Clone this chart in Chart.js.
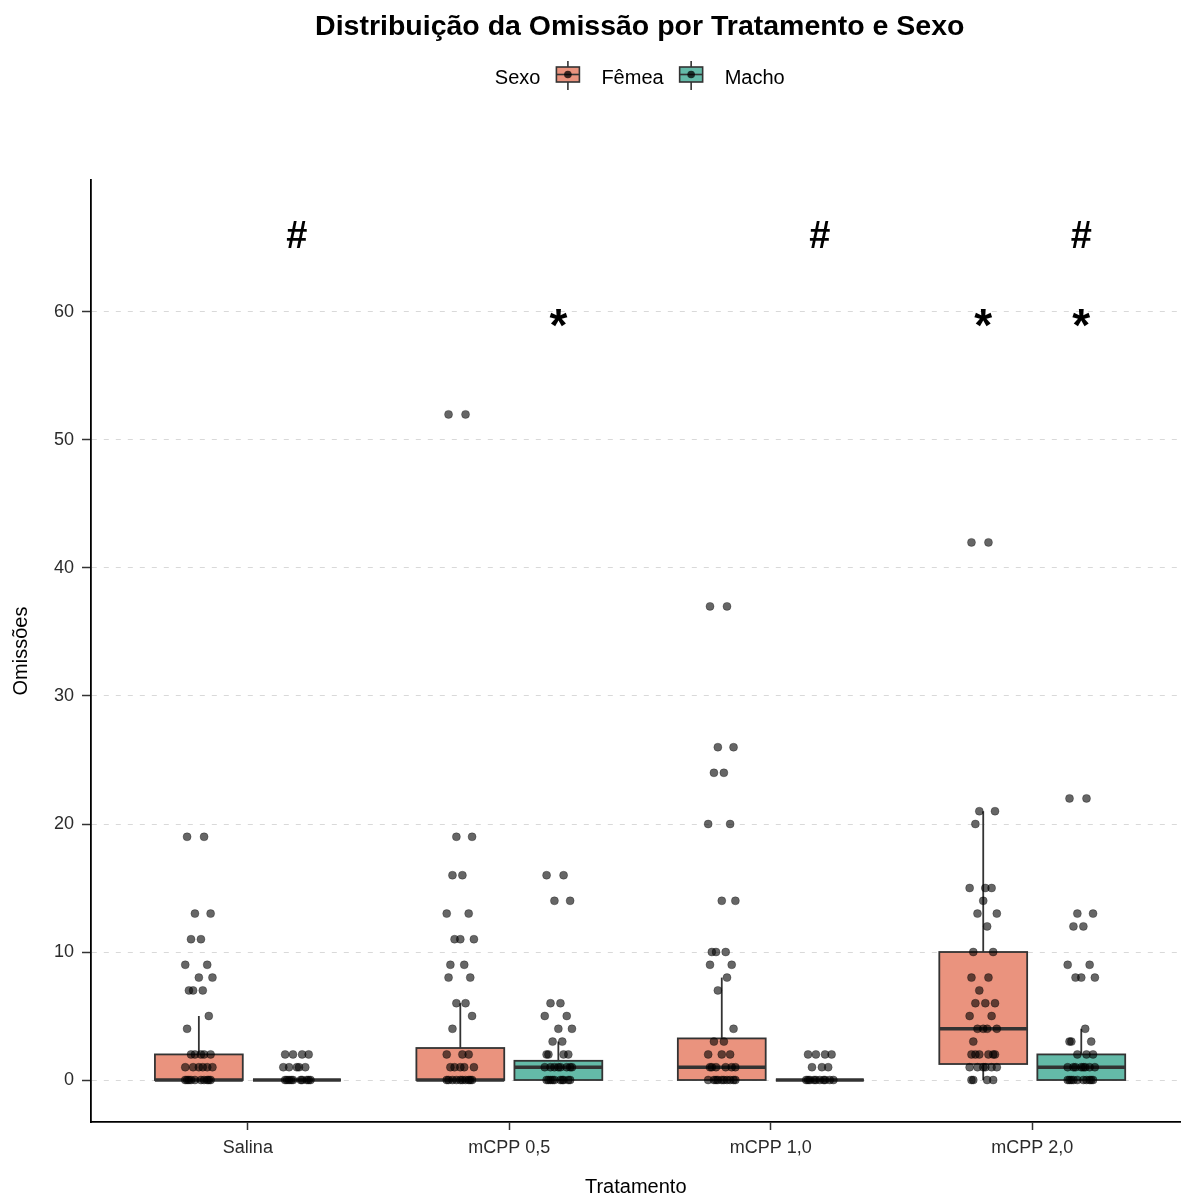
<!DOCTYPE html>
<html>
<head>
<meta charset="utf-8">
<script src="https://cdn.jsdelivr.net/npm/chart.js@4.4.1/dist/chart.umd.min.js"></script>
<style>
  html, body { margin: 0; padding: 0; background: #fff; }
  #wrap { position: relative; width: 1185px; height: 1198px; }
</style>
</head>
<body>
<div id="wrap"><canvas id="omissaoChart"></canvas></div>
<script>
/* ===========================
   Omissões por Tratamento e Sexo
   box plot + jittered points
=========================== */

const TREATMENTS = ['Salina', 'mCPP 0,5', 'mCPP 1,0', 'mCPP 2,0'];
const SEXES      = ['Fêmea', 'Macho'];
const Y_TICKS    = [0, 10, 20, 30, 40, 50, 60];

// box stats: [lower whisker, Q1, median, Q3, upper whisker]
const FEMALE_BOX = [
  [0, 0, 0, 2, 5],
  [0, 0, 0, 2.5, 6],
  [0, 0, 1, 3.25, 8],
  [0, 1.25, 4, 10, 21]
];
const MALE_BOX = [
  [0, 0, 0, 0, 0],
  [0, 0, 1, 1.5, 3],
  [0, 0, 0, 0, 0],
  [0, 0, 1, 2, 4]
];

// individual observations (overlapping dots repeated)
const FEMALE_SALINA = [19, 19, 13, 13, 11, 11, 9, 9, 8, 8, 7, 7, 7, 5, 4, 2, 2, 2, 2, 2, 1, 1, 1, 1, 1, 1, 0, 0, 0, 0, 0, 0, 0, 0, 0, 0];
const FEMALE_05     = [52, 52, 19, 19, 16, 16, 13, 13, 11, 11, 11, 9, 9, 8, 8, 6, 6, 5, 4, 2, 2, 2, 1, 1, 1, 1, 1, 0, 0, 0, 0, 0, 0, 0, 0, 0, 0];
const FEMALE_10     = [37, 37, 26, 26, 24, 24, 20, 20, 14, 14, 10, 10, 10, 9, 9, 8, 7, 4, 3, 3, 2, 2, 2, 1, 1, 1, 1, 1, 1, 0, 0, 0, 0, 0, 0, 0, 0, 0, 0];
const FEMALE_20     = [42, 42, 21, 21, 20, 15, 15, 15, 14, 13, 13, 12, 10, 10, 8, 8, 7, 6, 6, 6, 5, 5, 4, 4, 4, 4, 3, 2, 2, 2, 2, 2, 2, 1, 1, 1, 1, 1, 1, 0, 0, 0, 0];
const MALE_SALINA   = [2, 2, 2, 2, 1, 1, 1, 1, 1, 0, 0, 0, 0, 0, 0, 0, 0, 0, 0];
const MALE_05       = [16, 16, 14, 14, 6, 6, 5, 5, 4, 4, 3, 3, 2, 2, 2, 2, 1, 1, 1, 1, 1, 1, 1, 1, 0, 0, 0, 0, 0, 0, 0, 0, 0, 0];
const MALE_10       = [2, 2, 2, 2, 1, 1, 1, 0, 0, 0, 0, 0, 0, 0, 0, 0, 0];
const MALE_20       = [22, 22, 13, 13, 12, 12, 9, 9, 8, 8, 8, 4, 3, 3, 3, 2, 2, 2, 1, 1, 1, 1, 1, 1, 1, 1, 0, 0, 0, 0, 0, 0, 0, 0, 0, 0];

// significance marks
const MARK_TREAT  = [0, 1, 2, 3, 3, 3];
const MARK_SEX    = [1, 1, 1, 0, 1, 1];
const MARK_SYMBOL = ['#', '*', '#', '*', '#', '*'];
const MARK_Y      = [65.8, 58.7, 65.8, 58.7, 65.8, 58.7];

// styles
const FONT      = '"Liberation Sans", Arial, Helvetica, sans-serif';
const FILL      = ['#EA937E', '#64BAA8'];
const EDGE      = '#333333';
const DOT       = 'rgba(0,0,0,0.6)';
const DODGE     = 0.1875;
const BOX_HALF  = 0.168;
const JITTER    = [-0.045, 0.02, -0.015, 0.045, -0.03, 0.008, 0.032, -0.052, 0.0, 0.052, -0.022, 0.015, -0.038, 0.038];

function groupX(t, s) {
  return t + 1 + (s ? DODGE : -DODGE);
}

function buildPoints(groups, s) {
  const out = [];
  groups.forEach((vals, t) => {
    vals.forEach((v, i) => {
      out.push({ x: groupX(t, s) + JITTER[i % JITTER.length], y: v });
    });
  });
  return out;
}

// boxes & whiskers, drawn under the dots
const boxPlugin = {
  id: 'boxes',
  beforeDatasetsDraw(chart) {
    const { ctx, scales: { x, y } } = chart;
    [FEMALE_BOX, MALE_BOX].forEach((boxes, s) => {
      boxes.forEach((b, t) => {
        const cx = groupX(t, s);
        const xl = x.getPixelForValue(cx - BOX_HALF);
        const xr = x.getPixelForValue(cx + BOX_HALF);
        const xc = x.getPixelForValue(cx);
        const [lo, q1, med, q3, hi] = b.map(v => y.getPixelForValue(v));
        ctx.save();
        ctx.strokeStyle = EDGE;
        ctx.lineWidth = 1.8;
        ctx.beginPath();
        ctx.moveTo(xc, q3); ctx.lineTo(xc, hi);
        ctx.moveTo(xc, q1); ctx.lineTo(xc, lo);
        ctx.stroke();
        ctx.fillStyle = FILL[s];
        ctx.fillRect(xl, q3, xr - xl, q1 - q3);
        ctx.strokeRect(xl, q3, xr - xl, q1 - q3);
        ctx.lineWidth = 3.5;
        ctx.beginPath();
        ctx.moveTo(xl, med); ctx.lineTo(xr, med);
        ctx.stroke();
        ctx.restore();
      });
    });
  }
};

// # and * marks
const marksPlugin = {
  id: 'marks',
  afterDatasetsDraw(chart) {
    const { ctx, scales: { x, y } } = chart;
    ctx.save();
    ctx.fillStyle = '#000';
    ctx.textAlign = 'center';
    ctx.textBaseline = 'middle';
    MARK_SYMBOL.forEach((sym, i) => {
      ctx.font = sym === '*' ? 'bold 46px ' + FONT : 'bold 38px ' + FONT;
      ctx.fillText(sym, x.getPixelForValue(groupX(MARK_TREAT[i], MARK_SEX[i])), y.getPixelForValue(MARK_Y[i]));
    });
    ctx.restore();
  }
};

// title + "Sexo" legend, centred over the panel
const headerPlugin = {
  id: 'header',
  afterDraw(chart) {
    const { ctx, chartArea } = chart;
    const cx = (chartArea.left + chartArea.right) / 2 + 4;
    ctx.save();
    ctx.fillStyle = '#000';
    ctx.textBaseline = 'middle';
    ctx.textAlign = 'center';
    ctx.font = 'bold 28.5px ' + FONT;
    ctx.fillText('Distribuição da Omissão por Tratamento e Sexo', cx, 27);

    ctx.font = '20px ' + FONT;
    const keyW = 23, gapBefore = 16, gapAfter = 22;
    const items = ['Sexo'].concat(SEXES);
    const widths = items.map(t => ctx.measureText(t).width);
    const total = widths.reduce((a, b) => a + b, 0) + 2 * (gapBefore + keyW + gapAfter);
    let xpos = cx - total / 2;
    const ly = 78;
    ctx.textAlign = 'left';
    items.forEach((label, i) => {
      if (i > 0) {
        xpos += gapBefore;
        const kc = xpos + keyW / 2;
        ctx.strokeStyle = EDGE;
        ctx.lineWidth = 1.6;
        ctx.beginPath();
        ctx.moveTo(kc, ly - 17); ctx.lineTo(kc, ly + 12);
        ctx.stroke();
        ctx.fillStyle = FILL[i - 1];
        ctx.fillRect(xpos, ly - 11, keyW, 15);
        ctx.strokeRect(xpos, ly - 11, keyW, 15);
        ctx.beginPath();
        ctx.moveTo(xpos, ly - 3.5); ctx.lineTo(xpos + keyW, ly - 3.5);
        ctx.stroke();
        ctx.fillStyle = 'rgba(0,0,0,0.75)';
        ctx.beginPath();
        ctx.arc(kc, ly - 3.5, 3.8, 0, Math.PI * 2);
        ctx.fill();
        xpos += keyW + gapAfter;
      }
      ctx.fillStyle = '#000';
      ctx.fillText(label, xpos, ly);
      xpos += widths[i];
    });
    ctx.restore();
  }
};

Chart.defaults.font.family = FONT;

new Chart(document.getElementById('omissaoChart'), {
  type: 'scatter',
  data: {
    datasets: [
      {
        label: SEXES[0],
        data: buildPoints([FEMALE_SALINA, FEMALE_05, FEMALE_10, FEMALE_20], 0),
        backgroundColor: DOT,
        borderColor: DOT,
        borderWidth: 0.5,
        pointRadius: 4
      },
      {
        label: SEXES[1],
        data: buildPoints([MALE_SALINA, MALE_05, MALE_10, MALE_20], 1),
        backgroundColor: DOT,
        borderColor: DOT,
        borderWidth: 0.5,
        pointRadius: 4
      }
    ]
  },
  options: {
    responsive: true,
    maintainAspectRatio: false,
    animation: false,
    events: [],
    layout: { padding: { top: 180, left: 0, right: 1, bottom: 0 } },
    plugins: {
      legend: { display: false },
      tooltip: { enabled: false }
    },
    scales: {
      x: {
        type: 'linear',
        min: 0.4,
        max: 4.567,
        afterBuildTicks: scale => { scale.ticks = TREATMENTS.map((_, i) => ({ value: i + 1 })); },
        afterFit: scale => { scale.height = 76; },
        grid: { drawOnChartArea: false, drawTicks: true, tickLength: 8, tickColor: EDGE, tickWidth: 1.5 },
        border: { display: true, color: '#000', width: 1.8 },
        ticks: {
          color: '#2b2b2b',
          font: { size: 18 },
          padding: 7,
          maxRotation: 0,
          autoSkip: false,
          callback: v => TREATMENTS[Math.round(v) - 1]
        },
        title: { display: true, text: 'Tratamento', color: '#000', font: { size: 20 }, padding: { top: 0, bottom: -1 } }
      },
      y: {
        min: -3.28,
        max: 70.31,
        afterBuildTicks: scale => { scale.ticks = Y_TICKS.map(v => ({ value: v })); },
        afterFit: scale => { scale.width = 91; },
        grid: { color: '#d9d9d9', lineWidth: 1, tickLength: 9, tickColor: EDGE, tickWidth: 1.5 },
        border: { display: true, color: '#000', width: 1.8, dash: [5, 7] },
        ticks: { color: '#2b2b2b', font: { size: 18 }, padding: 8 },
        title: { display: true, text: 'Omissões', color: '#000', font: { size: 20 }, padding: { top: 9, bottom: 0 } }
      }
    }
  },
  plugins: [boxPlugin, marksPlugin, headerPlugin]
});
</script>
</body>
</html>
